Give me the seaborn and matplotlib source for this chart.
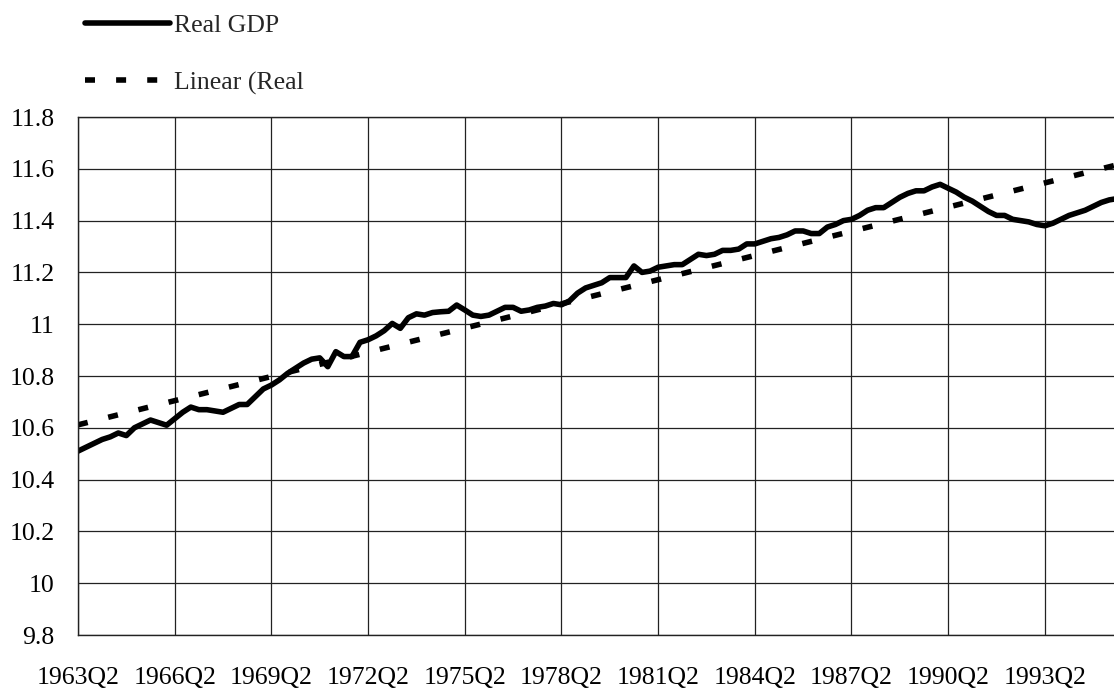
import numpy as np
import pandas as pd
import seaborn as sns
import matplotlib.pyplot as plt

# quarterly log real GDP, 1963Q2 onwards
start_year = 1963
start_quarter = 2
real_gdp = [
    10.51, 10.525, 10.54, 10.555, 10.565, 10.58, 10.57, 10.60, 10.615, 10.63,
    10.62, 10.61, 10.635, 10.66, 10.68, 10.67, 10.67, 10.665, 10.66, 10.675,
    10.69, 10.69, 10.72, 10.75, 10.765, 10.785, 10.81, 10.83, 10.85, 10.865,
    10.87, 10.836, 10.894, 10.875, 10.875, 10.93, 10.94, 10.955, 10.975, 11.003,
    10.984, 11.025, 11.04, 11.035, 11.045, 11.048, 11.05, 11.074, 11.055, 11.035,
    11.03, 11.035, 11.05, 11.065, 11.065, 11.05, 11.055, 11.065, 11.07, 11.08,
    11.075, 11.09, 11.12, 11.14, 11.15, 11.16, 11.18, 11.18, 11.18, 11.225,
    11.20, 11.205, 11.22, 11.225, 11.23, 11.23, 11.25, 11.27, 11.265, 11.27,
    11.285, 11.285, 11.29, 11.31, 11.31, 11.32, 11.33, 11.335, 11.345, 11.36,
    11.36, 11.35, 11.35, 11.375, 11.385, 11.40, 11.405, 11.42, 11.44, 11.45,
    11.45, 11.47, 11.49, 11.505, 11.515, 11.515, 11.53, 11.54, 11.525, 11.51,
    11.49, 11.475, 11.455, 11.435, 11.42, 11.42, 11.405, 11.40, 11.395, 11.385,
    11.38, 11.39, 11.405, 11.42, 11.43, 11.44, 11.455, 11.47, 11.48, 11.485,
]

n = len(real_gdp)
quarters = []
for k in range(n):
    q = start_quarter - 1 + k
    quarters.append(f"{start_year + q // 4}Q{q % 4 + 1}")

df = pd.DataFrame({'idx': np.arange(n), 'Quarter': quarters, 'gdp': real_gdp})

# linear trendline like Excel's "Linear (Real GDP)"
slope, intercept = np.polyfit(df['idx'], df['gdp'], 1)
df['trend'] = intercept + slope * df['idx']

sns.set_style("white")
plt.rcParams['font.family'] = ['Liberation Serif', 'DejaVu Serif']

fig = plt.figure(figsize=(11.14, 6.93), dpi=100)
ax = fig.add_axes([78 / 1114, 1 - 635 / 693, 1 - 78 / 1114 + 0.002, (635 - 117) / 693])

sns.lineplot(data=df, x='idx', y='gdp', ax=ax, color='black', lw=4.0,
             label='Real GDP', solid_capstyle='round', solid_joinstyle='round')
sns.lineplot(data=df, x='idx', y='trend', ax=ax, color='black', lw=4.0,
             linestyle=(0, (1.8, 3.8)), dash_capstyle='butt', label='Linear (Real')

ax.set_xlim(0, (1114 - 78) / 8.04)
ax.set_ylim(9.8, 11.8)
ax.set_yticks(np.arange(9.8, 11.81, 0.2))
ax.set_yticklabels([f"{v:g}" for v in np.round(np.arange(9.8, 11.81, 0.2), 1)])
ticks = list(range(0, n, 12))
ax.set_xticks(ticks)
ax.set_xticklabels([quarters[t] for t in ticks])
ax.tick_params(axis='both', length=0, labelsize=18.5, colors='black')
ax.tick_params(axis='x', pad=23)
ax.tick_params(axis='y', pad=17)
ax.set_xlabel('')
ax.set_ylabel('')
ax.grid(True, color='#222222', lw=0.9)
for side in ['left', 'bottom', 'top']:
    ax.spines[side].set_color('#222222')
    ax.spines[side].set_linewidth(1.0)
ax.spines['right'].set_visible(False)

leg = ax.legend(loc='upper left', bbox_to_anchor=(85 / 1114, 1 - 14 / 693),
                bbox_transform=fig.transFigure, frameon=False, fontsize=18.5,
                handlelength=3.3, handletextpad=0.15, labelspacing=1.33,
                borderpad=0, borderaxespad=0)

fig.savefig('out.png', dpi=100)
